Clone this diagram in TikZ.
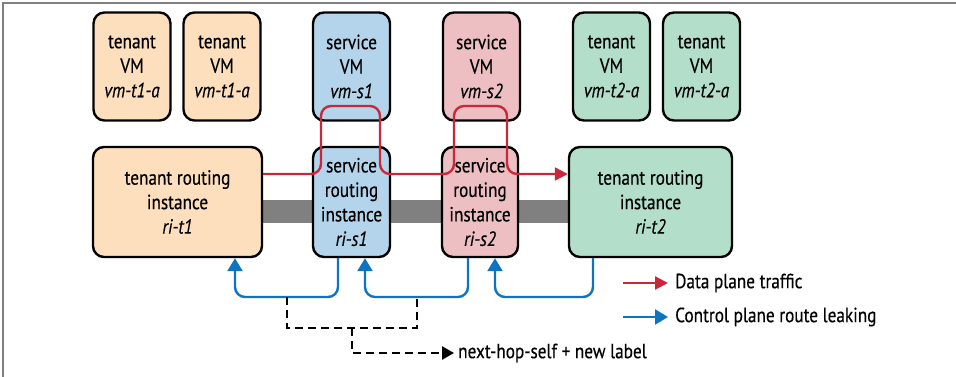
\documentclass[tikz,border=0pt]{standalone}
\usepackage{fontspec}
\setmainfont{PT Sans}[FakeStretch=0.84, FakeBold=0.4]
\usepackage{tikz}
\usetikzlibrary{arrows.meta,positioning,calc,backgrounds}
\definecolor{tenantfill}{HTML}{FDDFBE}
\definecolor{svconefill}{HTML}{B3D4EA}
\definecolor{svctwofill}{HTML}{EDBFC2}
\definecolor{tenanttwofill}{HTML}{B3DFCA}
\definecolor{datared}{HTML}{C8283A}
\definecolor{ctrlblue}{HTML}{0E74C2}
\definecolor{bargray}{HTML}{808080}

\begin{document}
\begin{tikzpicture}[x=1pt, y=-1pt,
  vmbox/.style={draw, line width=2.4pt, rounded corners=11pt, minimum width=77pt, minimum height=108pt, align=center, inner sep=0pt, font=\fontsize{20.5}{24.5}\selectfont},
  ribox/.style={vmbox, minimum height=110pt},
  data/.style={datared, line width=2.4pt, rounded corners=10pt, -{Triangle[length=13pt, width=13pt]}},
  ctrl/.style={ctrlblue, line width=2.4pt, rounded corners=10pt, -{Triangle[length=13pt, width=15pt]}},
  hop/.style={draw=black, dash pattern=on 8pt off 5pt},
  lbl/.style={anchor=west, inner sep=0pt, font=\fontsize{20.5}{24.5}\selectfont}
]
  \useasboundingbox (0,0) rectangle (956,377);
  \draw[bargray, line width=1.8pt] (3,377) -- (3,3) -- (956,3);

  % virtual machines
  \node[vmbox, fill=tenantfill] (vmta) at (132,66.5) {tenant\\VM\\\textit{vm-t1-a}};
  \node[vmbox, fill=tenantfill] (vmtb) at (222,66.5) {tenant\\VM\\\textit{vm-t1-a}};
  \node[vmbox, fill=svconefill] (vms1) at (351.5,66.5) {service\\VM\\\textit{vm-s1}};
  \node[vmbox, fill=svctwofill] (vms2) at (481.5,66.5) {service\\VM\\\textit{vm-s2}};
  \node[vmbox, fill=tenanttwofill] (vmtc) at (611.5,66.5) {tenant\\VM\\\textit{vm-t2-a}};
  \node[vmbox, fill=tenanttwofill] (vmtd) at (701.5,66.5) {tenant\\VM\\\textit{vm-t2-a}};

  % routing instances
  \node[ribox, fill=tenantfill, minimum width=169pt] (rit1) at (177.5,202) {tenant routing\\instance\\\textit{ri-t1}};
  \node[ribox, fill=svconefill] (ris1) at (351.5,202) {service\\routing\\instance\\\textit{ri-s1}};
  \node[ribox, fill=svctwofill, minimum width=76pt] (ris2) at (480,202) {service\\routing\\instance\\\textit{ri-s2}};
  \node[ribox, fill=tenanttwofill, minimum width=163pt] (rit2) at (650.5,202) {tenant routing\\instance\\\textit{ri-t2}};

  \begin{scope}[on background layer]
    \fill[bargray] (rit1.east |- 0,200) rectangle (rit2.west |- 0,223);
  \end{scope}

  % data plane
  \draw[data] (rit1.east |- 0,174) -- (321,174) -- (321,106) -- (380,106) -- (380,174)
    -- (454,174) -- (454,106) -- (507,106) -- (507,174) -- (rit2.west |- 0,174);

  % route leaking
  \draw[ctrl] (ris1.south -| 338,0) -- (338,297) -- (235,297) -- (rit1.south -| 235,0);
  \draw[ctrl] (ris2.south -| 468,0) -- (468,297) -- (365,297) -- (ris1.south -| 365,0);
  \draw[ctrl] (rit2.south -| 593,0) -- (593,297) -- (495,297) -- (ris2.south -| 495,0);

  \coordinate (hopa) at (287,297);
  \coordinate (hopb) at (417,297);
  \coordinate (hopm) at (352,328);
  \node[lbl] (hoplbl) at (458,353) {next-hop-self + new label};
  \draw[hop, line width=2.6pt] (hopa) -- (hopa |- hopm) -- (hopb |- hopm) -- (hopb);
  \draw[hop, line width=2.6pt, -{Triangle[length=12pt, width=13pt]}] (hopm) |- ([xshift=-4pt]hoplbl.west);

  % legend
  \node[lbl] (legdata) at (675,283) {Data plane traffic};
  \node[lbl] (legctrl) at (675,317) {Control plane route leaking};
  \coordinate[left=52pt of legdata.west] (legdatas);
  \coordinate[left=52pt of legctrl.west] (legctrls);
  \draw[data] (legdatas) -- ([xshift=-7pt]legdata.west);
  \draw[ctrl] (legctrls) -- ([xshift=-7pt]legctrl.west);
\end{tikzpicture}
\end{document}
